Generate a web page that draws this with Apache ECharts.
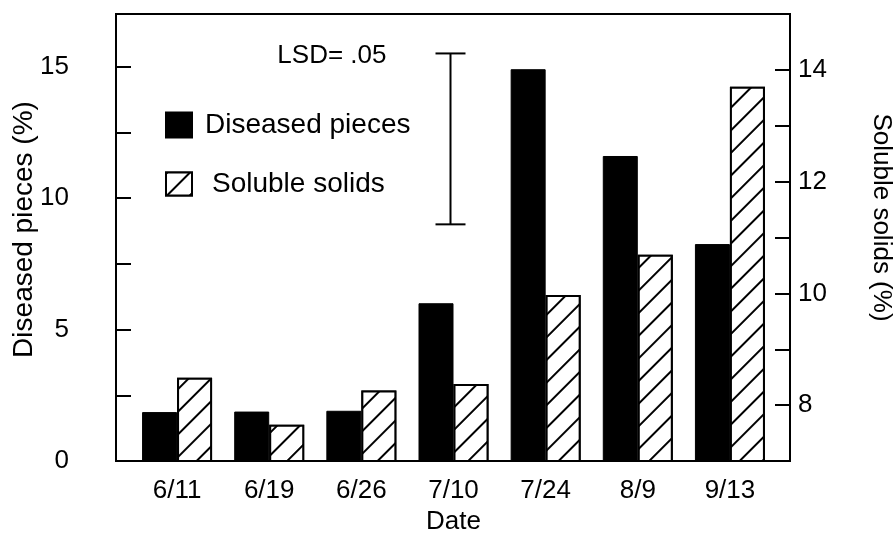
<!DOCTYPE html>
<html>
<head>
<meta charset="utf-8">
<script src="https://cdn.jsdelivr.net/npm/echarts@6/dist/echarts.min.js"></script>
<style>
  html, body { margin: 0; padding: 0; background: #fff; }
  #chart { width: 895px; height: 533px; }
</style>
</head>
<body>
<div id="chart"></div>
<script>
const dates = ['6/11', '6/19', '6/26', '7/10', '7/24', '8/9', '9/13']
const diseasedPieces = [1.86, 1.88, 1.91, 6.0, 14.9, 11.6, 8.25]
const solubleSolids = [8.49, 7.65, 8.26, 8.38, 9.97, 10.69, 13.7]
// LSD bar, drawn against the left axis at the 7/10 position
const lsdDate = '7/10'
const lsdRange = [9.0, 15.5]

const font = 'Liberation Sans, Arial, sans-serif'
const chart = echarts.init(document.getElementById('chart'))

const hatch = {
  symbol: 'rect',
  symbolSize: 1,
  color: '#000',
  backgroundColor: '#fff',
  dashArrayX: [1, 0],
  dashArrayY: [2, 14],
  rotation: -Math.PI / 4
}

const option = {
  animation: false,
  backgroundColor: '#fff',
  textStyle: { fontFamily: font, color: '#000' },
  grid: [
    { left: 131, right: 119, top: 14, bottom: 72, outerBoundsMode: 'none', containLabel: false },
    { left: 116, right: 105, top: 14, bottom: 72, outerBoundsMode: 'none', containLabel: false,
      show: true, borderColor: '#000', borderWidth: 2, backgroundColor: 'transparent' }
  ],
  legend: [
    {
      left: 160, top: 106,
      itemWidth: 26, itemHeight: 25,
      icon: 'rect',
      data: ['Diseased pieces'],
      textStyle: { fontSize: 28, fontFamily: font, color: '#000', padding: [0, 0, 0, 8] }
    },
    {
      left: 160, top: 165,
      itemWidth: 26, itemHeight: 23,
      icon: 'rect',
      data: ['Soluble solids'],
      textStyle: { fontSize: 28, fontFamily: font, color: '#000', padding: [0, 0, 0, 15] }
    }
  ],
  xAxis: [
    {
      type: 'category',
      gridIndex: 0,
      data: dates,
      axisLine: { show: false },
      axisTick: { show: false },
      axisLabel: { fontSize: 26, color: '#000', margin: 17, fontFamily: font },
      name: 'Date',
      nameLocation: 'middle',
      nameGap: 44,
      nameTextStyle: { fontSize: 26, color: '#000', fontFamily: font }
    },
    { type: 'value', gridIndex: 1, show: false }
  ],
  yAxis: [
    {
      type: 'value',
      gridIndex: 0,
      min: 0, max: 17, interval: 2.5,
      offset: 15,
      position: 'left',
      axisLine: { show: false },
      axisTick: { show: true, inside: true, length: 15, lineStyle: { color: '#000', width: 2 } },
      axisLabel: {
        fontSize: 26, color: '#000', margin: 47, fontFamily: font,
        formatter: v => (v % 5 === 0 ? String(v) : '')
      },
      splitLine: { show: false },
      name: 'Diseased pieces (%)',
      nameLocation: 'middle',
      nameMoveOverlap: false,
      nameGap: 78,
      nameTextStyle: { fontSize: 28, color: '#000', fontFamily: font, padding: [0, 0, 0, 16] }
    },
    {
      type: 'value',
      gridIndex: 0,
      min: 7, max: 15, interval: 1,
      offset: 14,
      position: 'right',
      axisLine: { show: false },
      axisTick: { show: true, inside: true, length: 15, lineStyle: { color: '#000', width: 2 } },
      axisLabel: {
        fontSize: 26, color: '#000', margin: 8, fontFamily: font,
        formatter: v => (v % 2 === 0 && v < 15 ? String(v) : '')
      },
      splitLine: { show: false },
      name: 'Soluble solids (%)',
      nameLocation: 'middle',
      nameMoveOverlap: false,
      nameGap: 78,
      nameRotate: -90,
      nameTextStyle: { fontSize: 26, color: '#000', fontFamily: font, padding: [0, 40, 0, 0] }
    },
    { type: 'value', gridIndex: 1, show: false }
  ],
  series: [
    {
      name: 'Diseased pieces',
      type: 'bar',
      xAxisIndex: 0,
      yAxisIndex: 0,
      data: diseasedPieces,
      barWidth: 35,
      barGap: '0%',
      itemStyle: { color: '#000', borderColor: '#000', borderWidth: 1 }
    },
    {
      name: 'Soluble solids',
      type: 'bar',
      xAxisIndex: 0,
      yAxisIndex: 1,
      data: solubleSolids,
      barWidth: 35,
      barGap: '0%',
      itemStyle: { color: '#fff', borderColor: '#000', borderWidth: 2, decal: hatch }
    },
    {
      name: 'LSD',
      type: 'custom',
      xAxisIndex: 0,
      yAxisIndex: 0,
      data: [[dates.indexOf(lsdDate), lsdRange[0], lsdRange[1]]],
      encode: { x: 0, y: [1, 2] },
      renderItem: function (params, api) {
        const low = api.coord([api.value(0), api.value(1)])
        const high = api.coord([api.value(0), api.value(2)])
        const x = low[0] - 3
        const cap = 15
        const line = { stroke: '#000', lineWidth: 2 }
        return {
          type: 'group',
          children: [
            { type: 'line', shape: { x1: x, y1: low[1], x2: x, y2: high[1] }, style: line },
            { type: 'line', shape: { x1: x - cap, y1: low[1], x2: x + cap, y2: low[1] }, style: line },
            { type: 'line', shape: { x1: x - cap, y1: high[1], x2: x + cap, y2: high[1] }, style: line },
            {
              type: 'text',
              x: x - 64, y: high[1] + 2,
              style: { text: 'LSD= .05', fontSize: 26, fontFamily: font, fill: '#000', align: 'right', verticalAlign: 'middle' }
            }
          ]
        }
      }
    }
  ]
}

chart.setOption(option)
</script>
</body>
</html>
